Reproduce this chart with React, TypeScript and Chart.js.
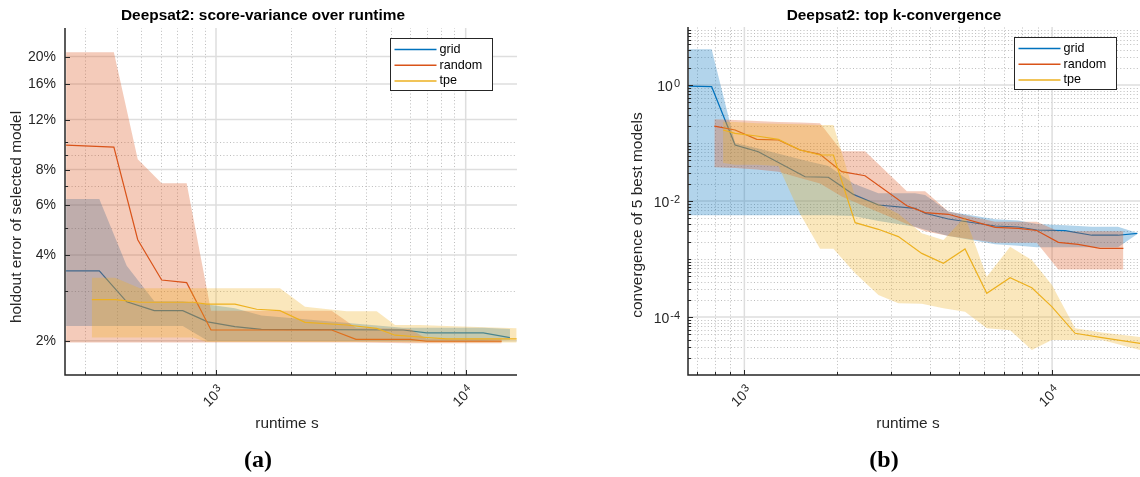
import React, { useEffect, useRef } from "react";
import { Chart, registerables } from "chart.js";
Chart.register(...registerables);

// ---------------- Panel (a): score-variance (percent) ----------------
const aGridX = [251, 341, 439, 566, 736, 926, 1190, 1520, 5620, 6980, 11760, 15040];
const aGridY = [3.52, 3.52, 2.74, 2.55, 2.55, 2.33, 2.24, 2.19, 2.18, 2.13, 2.13, 2.05];
const aGridHi = [6.3, 6.3, 3.67, 2.75, 2.75, 2.68, 2.6, 2.45, 2.22, 2.22, 2.22, 2.2];
const aGridLo = [2.25, 2.25, 2.25, 2.25, 2.25, 2.0, 2.0, 2.0, 2.0, 2.0, 2.0, 2.01];

const aRandX = [251, 390, 486, 606, 763, 955, 2906, 3637, 5983, 6980, 13940];
const aRandY = [9.75, 9.6, 4.53, 3.27, 3.2, 2.18, 2.18, 2.02, 2.02, 1.99, 1.99];
const aRandHi = [20.7, 20.7, 8.7, 7.16, 7.16, 2.55, 2.55, 2.22, 2.2, 2.03, 2.03];
const aRandLo = [1.97, 1.97, 1.97, 1.97, 1.97, 1.97, 1.97, 1.97, 1.96, 1.96, 1.96];

const aTpeX = [318, 394, 496, 811, 918, 1191, 1455, 1804, 2272, 3338, 4402, 5210, 6560, 8390, 16000];
const aTpeY = [2.79, 2.79, 2.73, 2.73, 2.69, 2.69, 2.58, 2.55, 2.32, 2.27, 2.21, 2.09, 2.06, 2.03, 2.03];
const aTpeHi = [3.33, 3.33, 3.06, 3.06, 3.06, 3.06, 3.06, 3.06, 2.63, 2.54, 2.54, 2.27, 2.27, 2.25, 2.21];
const aTpeLo = [2.05, 2.05, 2.05, 2.05, 1.98, 1.98, 1.98, 1.98, 1.98, 1.98, 1.98, 1.98, 1.97, 1.97, 1.97];

const aYMajor = [2, 4, 6, 8, 12, 16, 20];
const aYMinor = [3, 5, 7, 9, 10];
const aXMajor = [1000, 10000];
const aXMinor = [300, 400, 500, 600, 700, 800, 900, 2000, 3000, 4000, 5000, 6000, 7000, 8000, 9000];

// ---------------- Panel (b): top k-convergence ----------------
const bGridX = [660, 783, 933, 1110, 1575, 1875, 2261, 2727, 3587, 3867, 4603, 6530, 7774, 8916, 11020, 13460, 16390, 18930];
const bGridY = [0.96, 0.935, 0.0924, 0.0708, 0.0262, 0.0257, 0.013, 0.00853, 0.00748, 0.00614, 0.0049, 0.00371, 0.00356, 0.00316, 0.00308, 0.00257, 0.00257, 0.00277];
const bGridHi = [4.12, 4.12, 0.1, 0.08, 0.05, 0.04, 0.02, 0.0136, 0.0136, 0.0127, 0.0066, 0.00483, 0.0046, 0.004, 0.0038, 0.0036, 0.0036, 0.0028];
const bGridLo = [0.0057, 0.0057, 0.0057, 0.0057, 0.0057, 0.0057, 0.0055, 0.0045, 0.0036, 0.0032, 0.0025, 0.0018, 0.0017, 0.0016, 0.0016, 0.0016, 0.0016, 0.0027];

const bRandX = [799, 933, 1097, 1290, 1517, 1762, 2073, 2467, 3373, 3867, 4603, 6530, 7774, 8916, 10480, 12150, 14320, 17050];
const bRandY = [0.196, 0.1675, 0.1156, 0.1127, 0.0757, 0.0638, 0.032, 0.0273, 0.0083, 0.0063, 0.0059, 0.00352, 0.00338, 0.0031, 0.00194, 0.00179, 0.00153, 0.00153];
const bRandHi = [0.256, 0.25, 0.24, 0.23, 0.225, 0.219, 0.072, 0.072, 0.0147, 0.0147, 0.0066, 0.0044, 0.0044, 0.0044, 0.003, 0.003, 0.003, 0.003];
const bRandLo = [0.038, 0.037, 0.035, 0.032, 0.025, 0.02, 0.012, 0.008, 0.004, 0.003, 0.0025, 0.0019, 0.0019, 0.0019, 0.00066, 0.00066, 0.00066, 0.00066];

const bTpeX = [853, 933, 1097, 1290, 1517, 1762, 1947, 2291, 2727, 3166, 3772, 4434, 5214, 6134, 7304, 8593, 9977, 11880, 14510, 19320];
const bTpeY = [0.1675, 0.147, 0.132, 0.1156, 0.0757, 0.0621, 0.0621, 0.00423, 0.00325, 0.00243, 0.00125, 0.000843, 0.00149, 0.000256, 0.000476, 0.00032, 0.000151, 5.24e-5, 4.4e-5, 3.5e-5];
const bTpeHi = [0.233, 0.23, 0.22, 0.215, 0.21, 0.205, 0.204, 0.012, 0.009, 0.006, 0.00277, 0.00213, 0.00536, 0.000496, 0.00163, 0.00096, 0.00036, 6.4e-5, 5.4e-5, 4.5e-5];
const bTpeLo = [0.045, 0.042, 0.042, 0.04, 0.006, 0.0015, 0.0015, 0.000566, 0.000239, 0.000172, 0.00017, 0.000141, 0.000123, 6.4e-5, 5.9e-5, 2.7e-5, 4e-5, 4e-5, 4e-5, 2.7e-5];

const bYMajorExp = [-4, -2, 0];
const bXMajor = [1000, 10000];
const bXMinor = [700, 800, 900, 2000, 3000, 4000, 5000, 6000, 7000, 8000, 9000];

const legendNames = ["grid", "random", "tpe"];
const COLORS = ["#0072BD", "#D95319", "#EDB120"];
const BANDS = ["rgba(0,114,189,0.3)", "rgba(217,83,25,0.3)", "rgba(237,177,32,0.3)"];

const FONT = '"Liberation Sans", Arial, Helvetica, sans-serif';
const TXT = "#262626";

function buildYMinorLog(minExp: number, maxExp: number, majors: number[]) {
  const out: number[] = [];
  for (let e = minExp; e <= maxExp; e++) {
    for (let k = 1; k <= 9; k++) {
      const v = k * Math.pow(10, e);
      if (!majors.some((m) => Math.abs(Math.log10(m) - Math.log10(v)) < 1e-6)) out.push(v);
    }
  }
  return out;
}

function seriesSets(xs: number[], ys: number[], lo: number[], hi: number[], i: number, orderBase: number) {
  const pts = (arr: number[]) => xs.map((x, j) => ({ x, y: arr[j] }));
  return [
    { data: pts(hi), borderWidth: 0, borderColor: "rgba(0,0,0,0)", pointRadius: 0, fill: "+1", backgroundColor: BANDS[i], order: orderBase + 1, tension: 0 },
    { data: pts(lo), borderWidth: 0, borderColor: "rgba(0,0,0,0)", pointRadius: 0, fill: false, order: orderBase + 1, tension: 0 },
    { data: pts(ys), borderWidth: 1.2, borderColor: COLORS[i], pointRadius: 0, fill: false, order: orderBase, tension: 0 },
  ];
}

function drawPower(ctx: CanvasRenderingContext2D, base: string, sup: string, x: number, y: number, align: "right" | "center") {
  ctx.font = `14px ${FONT}`;
  const wb = ctx.measureText(base).width;
  ctx.font = `11px ${FONT}`;
  const ws = ctx.measureText(sup).width;
  const total = wb + 1 + ws;
  const x0 = align === "right" ? x - total : x - total / 2;
  ctx.textAlign = "left";
  ctx.textBaseline = "alphabetic";
  ctx.font = `14px ${FONT}`;
  ctx.fillText(base, x0, y + 5);
  ctx.font = `11px ${FONT}`;
  ctx.fillText(sup, x0 + wb + 1, y + 0.5);
}

type PanelCfg = {
  xMin: number; xMax: number; yMin: number; yMax: number;
  padding: { left: number; right: number; top: number; bottom: number };
  xMajor: number[]; xMinor: number[]; yMajor: number[]; yMinor: number[];
  yTickLabel: (ctx: CanvasRenderingContext2D, v: number, x: number, y: number) => void;
  xTickExp: (v: number) => string;
  title: string; titleX: number;
  xLabel: string; xLabelX: number;
  yLabel: string; yLabelX: number; yLabelY: number;
  caption: string; captionX: number;
  series: any[];
};

function makeChart(canvas: HTMLCanvasElement, cfg: PanelCfg) {
  const deco = {
    id: "deco",
    beforeDatasetsDraw(chart: any) {
      const { ctx, chartArea: a, scales } = chart;
      const xs = scales.x, ys = scales.y;
      ctx.save();
      // minor dotted grid
      ctx.strokeStyle = "#bcbcbc";
      ctx.lineWidth = 1;
      ctx.setLineDash([1, 2.3]);
      for (const v of cfg.xMinor) {
        if (v <= cfg.xMin || v >= cfg.xMax) continue;
        const px = Math.round(xs.getPixelForValue(v)) + 0.5;
        ctx.beginPath(); ctx.moveTo(px, a.bottom); ctx.lineTo(px, a.top); ctx.stroke();
      }
      for (const v of cfg.yMinor) {
        if (v <= cfg.yMin || v >= cfg.yMax) continue;
        const py = Math.round(ys.getPixelForValue(v)) + 0.5;
        ctx.beginPath(); ctx.moveTo(a.left, py); ctx.lineTo(a.right, py); ctx.stroke();
      }
      // major solid grid
      ctx.setLineDash([]);
      ctx.strokeStyle = "#dedede";
      ctx.lineWidth = 1.5;
      for (const v of cfg.xMajor) {
        const px = xs.getPixelForValue(v);
        ctx.beginPath(); ctx.moveTo(px, a.bottom); ctx.lineTo(px, a.top); ctx.stroke();
      }
      for (const v of cfg.yMajor) {
        const py = ys.getPixelForValue(v);
        ctx.beginPath(); ctx.moveTo(a.left, py); ctx.lineTo(a.right, py); ctx.stroke();
      }
      ctx.restore();
    },
    afterDraw(chart: any) {
      const { ctx, chartArea: a, scales } = chart;
      const xs = scales.x, ys = scales.y;
      ctx.save();
      // axes
      ctx.strokeStyle = TXT;
      ctx.lineWidth = 1.5;
      ctx.beginPath();
      ctx.moveTo(a.left, a.top);
      ctx.lineTo(a.left, a.bottom);
      ctx.lineTo(a.right, a.bottom);
      ctx.stroke();
      // ticks (inward)
      ctx.lineWidth = 1;
      const tickY = (v: number, len: number) => {
        const py = Math.round(ys.getPixelForValue(v)) + 0.5;
        ctx.beginPath(); ctx.moveTo(a.left, py); ctx.lineTo(a.left + len, py); ctx.stroke();
      };
      const tickX = (v: number, len: number) => {
        const px = Math.round(xs.getPixelForValue(v)) + 0.5;
        ctx.beginPath(); ctx.moveTo(px, a.bottom); ctx.lineTo(px, a.bottom - len); ctx.stroke();
      };
      cfg.yMajor.forEach((v) => tickY(v, 5));
      cfg.yMinor.forEach((v) => { if (v > cfg.yMin && v < cfg.yMax) tickY(v, 3); });
      cfg.xMajor.forEach((v) => tickX(v, 5));
      cfg.xMinor.forEach((v) => { if (v > cfg.xMin && v < cfg.xMax) tickX(v, 3); });
      // tick labels
      ctx.fillStyle = TXT;
      for (const v of cfg.yMajor) {
        cfg.yTickLabel(ctx, v, a.left - 8, ys.getPixelForValue(v));
      }
      for (const v of cfg.xMajor) {
        const px = xs.getPixelForValue(v);
        ctx.save();
        ctx.translate(px - 3, a.bottom + 21);
        ctx.rotate(-Math.PI / 4);
        drawPower(ctx, "10", cfg.xTickExp(v), 0, 0, "center");
        ctx.restore();
      }
      // axis labels
      ctx.font = `15.4px ${FONT}`;
      ctx.textAlign = "center";
      ctx.textBaseline = "middle";
      ctx.fillText(cfg.xLabel, cfg.xLabelX, 424);
      ctx.save();
      ctx.translate(cfg.yLabelX, cfg.yLabelY);
      ctx.rotate(-Math.PI / 2);
      ctx.fillText(cfg.yLabel, 0, 0);
      ctx.restore();
      // title
      ctx.fillStyle = "#000";
      ctx.font = `bold 15.4px ${FONT}`;
      ctx.fillText(cfg.title, cfg.titleX, 16);
      // legend
      const bw = 102, bh = 52;
      const bx = Math.round(a.right - 25 - bw) + 0.5;
      const by = Math.round(a.top + 10) + 0.5;
      ctx.fillStyle = "#fff";
      ctx.fillRect(bx, by, bw, bh);
      ctx.strokeStyle = TXT;
      ctx.lineWidth = 1;
      ctx.strokeRect(bx, by, bw, bh);
      ctx.font = `12.6px ${FONT}`;
      ctx.textAlign = "left";
      ctx.textBaseline = "middle";
      legendNames.forEach((name, i) => {
        const ly = by + 11 + i * 15.7;
        ctx.strokeStyle = COLORS[i];
        ctx.lineWidth = 1.5;
        ctx.beginPath(); ctx.moveTo(bx + 4, ly); ctx.lineTo(bx + 46, ly); ctx.stroke();
        ctx.fillStyle = "#000";
        ctx.fillText(name, bx + 49, ly);
      });
      // caption
      ctx.fillStyle = "#000";
      ctx.font = 'bold 24px "Liberation Serif", "Times New Roman", serif';
      ctx.textAlign = "center";
      ctx.textBaseline = "middle";
      ctx.fillText(cfg.caption, cfg.captionX, 461);
      ctx.restore();
    },
  };

  return new Chart(canvas, {
    type: "line",
    data: { datasets: cfg.series },
    options: {
      responsive: false,
      animation: false,
      devicePixelRatio: 1,
      layout: { padding: cfg.padding },
      plugins: { legend: { display: false }, title: { display: false }, tooltip: { enabled: false } },
      events: [],
      scales: {
        x: { type: "logarithmic", min: cfg.xMin, max: cfg.xMax, display: false },
        y: { type: "logarithmic", min: cfg.yMin, max: cfg.yMax, display: false },
      },
    } as any,
    plugins: [deco],
  });
}

const panelA: PanelCfg = {
  xMin: 248.5, xMax: 16050, yMin: 1.514, yMax: 25.2,
  padding: { left: 65, right: 58, top: 28, bottom: 102 },
  xMajor: aXMajor, xMinor: aXMinor, yMajor: aYMajor, yMinor: aYMinor,
  yTickLabel: (ctx, v, x, y) => {
    ctx.font = `14px ${FONT}`;
    ctx.textAlign = "right";
    ctx.textBaseline = "middle";
    ctx.fillText(`${v}%`, x - 1, y + 0.5);
  },
  xTickExp: (v) => String(Math.round(Math.log10(v))),
  title: "Deepsat2: score-variance over runtime", titleX: 263,
  xLabel: "runtime s", xLabelX: 287,
  yLabel: "holdout error of selected model", yLabelX: 17, yLabelY: 217,
  caption: "(a)", captionX: 258,
  series: [
    ...seriesSets(aGridX, aGridY, aGridLo, aGridHi, 0, 7),
    ...seriesSets(aRandX, aRandY, aRandLo, aRandHi, 1, 4),
    ...seriesSets(aTpeX, aTpeY, aTpeLo, aTpeHi, 2, 1),
  ],
};

const OFF = 575;
const bYMajor = bYMajorExp.map((e) => Math.pow(10, e));
const panelB: PanelCfg = {
  xMin: 656, xMax: 19450, yMin: 1e-5, yMax: 10,
  padding: { left: 113, right: 4, top: 27, bottom: 102 },
  xMajor: bXMajor, xMinor: bXMinor, yMajor: bYMajor, yMinor: buildYMinorLog(-5, 0, bYMajor),
  yTickLabel: (ctx, v, x, y) => {
    drawPower(ctx, "10", String(Math.round(Math.log10(v))), x, y + 1, "right");
  },
  xTickExp: (v) => String(Math.round(Math.log10(v))),
  title: "Deepsat2: top k-convergence", titleX: 894 - OFF,
  xLabel: "runtime s", xLabelX: 908 - OFF,
  yLabel: "convergence of 5 best models", yLabelX: 638 - OFF, yLabelY: 215,
  caption: "(b)", captionX: 884 - OFF,
  series: [
    ...seriesSets(bGridX, bGridY, bGridLo, bGridHi, 0, 7),
    ...seriesSets(bRandX, bRandY, bRandLo, bRandHi, 1, 4),
    ...seriesSets(bTpeX, bTpeY, bTpeLo, bTpeHi, 2, 1),
  ],
};

export default function App() {
  const refA = useRef<HTMLCanvasElement>(null);
  const refB = useRef<HTMLCanvasElement>(null);
  useEffect(() => {
    const a = makeChart(refA.current!, panelA);
    const b = makeChart(refB.current!, panelB);
    return () => {
      a.destroy();
      b.destroy();
    };
  }, []);
  return (
    <div style={{ position: "fixed", left: 0, top: 0, width: 1140, height: 477, overflow: "hidden", background: "#fff" }}>
      <canvas ref={refA} width={575} height={477} style={{ position: "absolute", left: 0, top: 0, width: 575, height: 477 }} />
      <canvas ref={refB} width={570} height={477} style={{ position: "absolute", left: OFF, top: 0, width: 570, height: 477 }} />
    </div>
  );
}
